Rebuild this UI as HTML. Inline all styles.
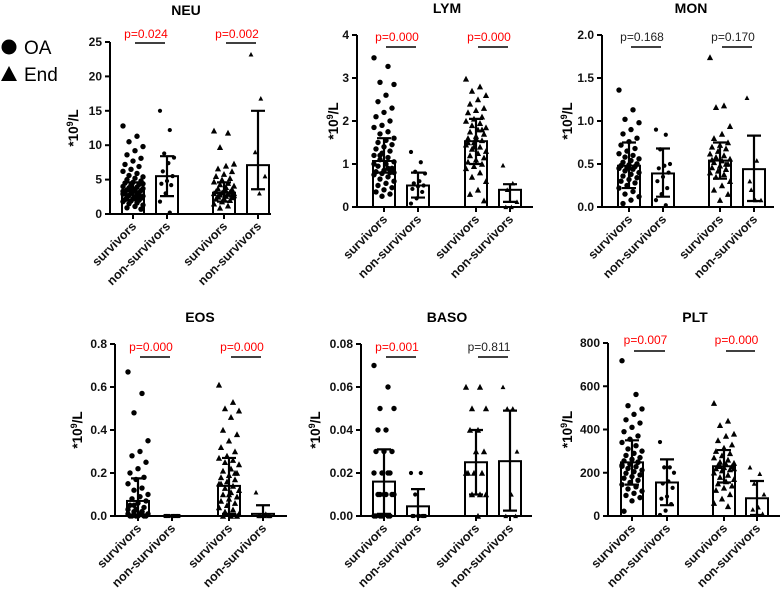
<!DOCTYPE html>
<html><head><meta charset="utf-8"><style>
html,body{margin:0;padding:0;background:#fff}
svg{display:block;font-family:"Liberation Sans",Arial,sans-serif}
</style></head><body>
<svg id="chart" width="783" height="596" viewBox="0 0 783 596" xmlns="http://www.w3.org/2000/svg">
<g>
<circle cx="9" cy="47" r="7.5" fill="#000"/>
<text x="24" y="54" font-size="19" fill="#000">OA</text>
<polygon points="1,81 9,66 17,81" fill="#000"/>
<text x="24" y="81" font-size="19" fill="#000">End</text>
</g>
</svg>
<script>
const categories = ["survivors","non-survivors","survivors","non-survivors"];
const panelNames = ["NEU","LYM","MON","EOS","BASO","PLT"];
const yMax = [25,4,2.0,0.8,0.08,800];
const yTicks = [[0,5,10,15,20,25],[0,1,2,3,4],[0,0.5,1.0,1.5,2.0],[0,0.2,0.4,0.6,0.8],[0,0.02,0.04,0.06,0.08],[0,200,400,600,800]];
const yTickLabels = [["0","5","10","15","20","25"],["0","1","2","3","4"],["0.0","0.5","1.0","1.5","2.0"],["0.0","0.2","0.4","0.6","0.8"],["0.00","0.02","0.04","0.06","0.08"],["0","200","400","600","800"]];
const pValues = [["p=0.024","p=0.002"],["p=0.000","p=0.000"],["p=0.168","p=0.170"],["p=0.000","p=0.000"],["p=0.001","p=0.811"],["p=0.007","p=0.000"]];
const pSignificant = [[true,true],[true,true],[false,false],[true,true],[true,false],[true,true]];
const barMeans = [[3.3,5.5,3.1,7.1],[1.07,0.5,1.53,0.4],[0.48,0.39,0.54,0.44],[0.07,0.0,0.14,0.01],[0.016,0.0045,0.025,0.0255],[248,155,230,82]];
const errHigh = [[4.6,8.4,4.6,15.0],[1.6,0.8,2.05,0.53],[0.75,0.68,0.75,0.83],[0.175,0.0,0.27,0.05],[0.031,0.0125,0.040,0.049],[350,262,305,162]];
const errLow = [[2.0,2.6,1.8,3.6],[0.8,0.22,1.0,0.12],[0.22,0.12,0.33,0.07],[0.0,0.0,0.01,0.0],[0.001,0.0,0.010,0.0025],[145,50,155,5]];
const neuPoints = [[12.8,11.3,10.5,9.8,9.2,8.6,8.1,7.7,7.2,6.9,6.5,6.2,5.9,5.6,5.4,5.2,5.0,4.8,4.6,4.5,4.3,4.2,4.0,3.9,3.8,3.7,3.6,3.5,3.4,3.3,3.2,3.1,3.0,2.9,2.8,2.7,2.6,2.5,2.4,2.3,2.2,2.1,2.0,1.9,1.8,1.6,1.5,1.3,1.1,0.9,0.7,3.5,3.0,2.6,4.1,3.3,2.9,3.7,4.4,2.4],[15,12.2,8.8,8.2,7.4,6.2,5.5,4.8,4.4,4.2,3.0,1.8,0.2],[12.1,11.8,9.7,7.3,7.0,6.6,6.2,5.8,5.5,5.2,5.0,4.7,4.5,4.3,4.1,3.9,3.7,3.6,3.4,3.3,3.2,3.1,3.0,2.9,2.8,2.7,2.6,2.5,2.4,2.3,2.2,2.0,1.8,1.5,1.2,0.9,3.0,3.4,2.6,2.8],[23.2,16.8,9.0,5.5,3.0]];
const lymPoints = [[3.47,3.27,2.9,2.85,2.6,2.45,2.3,2.2,2.1,2.0,1.9,1.85,1.75,1.7,1.6,1.55,1.5,1.45,1.4,1.35,1.3,1.25,1.2,1.15,1.1,1.05,1.0,0.95,0.9,0.85,0.82,0.8,0.78,0.75,0.7,0.65,0.6,0.55,0.5,0.45,0.4,0.35,0.3,0.25,1.0,0.9,1.2,0.8],[1.28,1.04,0.82,0.78,0.6,0.55,0.5,0.48,0.42,0.35,0.2,0.08],[2.98,2.8,2.7,2.6,2.5,2.4,2.3,2.25,2.2,2.1,2.05,2.0,1.95,1.9,1.85,1.8,1.75,1.7,1.65,1.6,1.55,1.5,1.45,1.4,1.35,1.3,1.25,1.2,1.15,1.1,1.05,1.0,0.95,0.9,0.8,0.7,0.6,0.4,0.3,0.15,1.6,1.5,1.8,1.4],[0.97,0.55,0.4,0.12,0.0,0.0]];
const monPoints = [[1.36,1.13,1.02,0.98,0.9,0.85,0.8,0.76,0.72,0.68,0.65,0.62,0.6,0.58,0.56,0.54,0.52,0.5,0.49,0.48,0.47,0.46,0.45,0.44,0.42,0.4,0.38,0.36,0.34,0.32,0.3,0.28,0.25,0.22,0.18,0.15,0.12,0.08,0.04,0.5,0.45,0.48],[0.9,0.84,0.67,0.5,0.48,0.45,0.4,0.35,0.3,0.22,0.15,0.08,0.02],[1.74,1.18,1.16,0.94,0.85,0.8,0.75,0.72,0.7,0.68,0.65,0.62,0.6,0.58,0.56,0.54,0.52,0.5,0.48,0.46,0.44,0.42,0.4,0.38,0.35,0.3,0.25,0.2,0.15,0.08,0.55,0.5],[1.27,0.54,0.2,0.08,0.08,0.3]];
const eosPoints = [[0.67,0.57,0.48,0.35,0.3,0.28,0.25,0.22,0.2,0.18,0.17,0.15,0.13,0.12,0.1,0.09,0.08,0.07,0.06,0.05,0.04,0.03,0.03,0.02,0.02,0.01,0.01,0.0,0.0,0.0,0.0,0.0,0.0,0.01,0.02,0.05],[0,0,0,0,0,0,0,0,0,0],[0.61,0.53,0.5,0.49,0.46,0.4,0.38,0.35,0.32,0.3,0.28,0.27,0.26,0.25,0.24,0.22,0.21,0.2,0.19,0.18,0.17,0.16,0.15,0.14,0.13,0.12,0.11,0.1,0.09,0.08,0.07,0.06,0.05,0.04,0.03,0.02,0.01,0.0,0.0,0.0,0.1,0.15,0.2],[0.11,0.01,0.0,0.0,0.0,0.0,0.0]];
const basoPoints = [[0.07,0.06,0.05,0.05,0.04,0.04,0.03,0.03,0.03,0.02,0.02,0.02,0.02,0.01,0.01,0.01,0.01,0.01,0.01,0.0,0.0,0.0,0.0,0.0,0.0],[0.02,0.02,0.01,0.0,0.0,0.0,0.0,0.0,0.0,0.0],[0.06,0.06,0.05,0.05,0.04,0.04,0.03,0.03,0.02,0.02,0.02,0.02,0.01,0.01,0.01,0.0],[0.06,0.05,0.05,0.03,0.01,0.0,0.0]];
const pltPoints = [[718,562,510,495,470,445,430,410,390,370,355,340,325,310,300,290,280,270,262,255,248,240,235,228,220,212,205,198,190,182,175,165,155,145,135,125,115,105,95,85,70,22,250,240,230],[342,225,225,200,160,150,130,90,80,55,25,5],[522,440,420,380,370,350,330,315,300,290,280,270,260,250,245,240,235,230,225,220,215,210,200,190,180,170,160,150,140,130,120,100,80,60,45,230,220],[225,195,150,100,40,30,10,10]];
const allPoints = [neuPoints,lymPoints,monPoints,eosPoints,basoPoints,pltPoints];

// layout (not data)
const layout = [
 {ax:110,top:42,zero:214,bx:[133,167,224,258],end:271,tx:186,ty:15,ytd:37,ty1:38,ly:43},
 {ax:357,top:35,zero:207,bx:[384,418,476,510],end:533,tx:447,ty:13,ytd:24,ty1:41,ly:47},
 {ax:602,top:35,zero:207,bx:[629,663,720,754],end:774,tx:691,ty:13,ytd:35,ty1:41,ly:47},
 {ax:115,top:344,zero:516,bx:[138,172,229,263],end:287,tx:200,ty:322,ytd:38,ty1:351,ly:357},
 {ax:361,top:344,zero:516,bx:[384,418,476,510],end:532,tx:447,ty:322,ytd:46,ty1:351,ly:357},
 {ax:608,top:343,zero:516,bx:[632,667,724,757],end:780,tx:695,ty:322,ytd:41,ty1:344,ly:351}
];
const NS="http://www.w3.org/2000/svg";
const svg=document.getElementById('chart');
function mk(tag,attrs,parent){const e=document.createElementNS(NS,tag);for(const k in attrs)e.setAttribute(k,attrs[k]);parent.appendChild(e);return e;}

panelNames.forEach((name,p)=>{
 const L=layout[p];
 const yS=v=>L.zero-(v/yMax[p])*(L.zero-L.top);
 const g=mk('g',{},svg);
 
 
 const t=mk('text',{x:L.tx,y:L.ty,'text-anchor':'middle','font-size':14,'font-weight':'bold'},g);
 
 
 t.textContent=name;
 const cy=(L.top+L.zero)/2;
 const yt=mk('text',{x:L.ax-L.ytd+5,y:cy,'text-anchor':'middle','font-size':13.5,'font-weight':'bold',transform:`rotate(-90 ${L.ax-L.ytd+5} ${cy})`},g);
 
 
 yt.innerHTML='*10<tspan dy="-5" font-size="9">9</tspan><tspan dy="5">/L</tspan>';
 const ya=mk('line',{x1:L.ax,y1:L.top,x2:L.ax,y2:L.zero+1,stroke:'#000','stroke-width':2},g);
 
 
 const xa=mk('line',{x1:L.ax-1,y1:L.zero,x2:L.end,y2:L.zero,stroke:'#000','stroke-width':2},g);
 
 
 yTicks[p].forEach((v,i)=>{
  const y=yS(v);
  const tk=mk('line',{x1:L.ax-5,y1:y,x2:L.ax,y2:y,stroke:'#000','stroke-width':2},g);
  
  
  const tl=mk('text',{x:L.ax-8,y:y+4,'text-anchor':'end','font-size':12,'font-weight':'bold',fill:'#111'},g);
  
  
  tl.textContent=yTickLabels[p][i];
 });
 categories.forEach((c,k)=>{
  const cx=L.bx[k];
  const bh=L.zero-yS(barMeans[p][k]);
  const bar=mk('rect',{x:cx-11,y:L.zero-bh,width:22,height:Math.max(bh,0),fill:'#fff',stroke:'#000','stroke-width':2},g);
  
  
  const pts=allPoints[p][k];
  const w=k%2===0?10:7;
  const r=k%2===0?2.7:2.1;
  pts.forEach((v,i)=>{
   const jx=cx+(((i*7)%11)-5)/5*w;
   const y=yS(v);
   let m;
   if(k<2){m=mk('circle',{cx:jx,cy:y,r:r,fill:'#000'},g);}
   else{const s=r*1.15;m=mk('polygon',{points:`${jx-s},${y+s*0.9} ${jx},${y-s} ${jx+s},${y+s*0.9}`,fill:'#000'},g);}
   
   
  });
  const hi=yS(errHigh[p][k]),lo=yS(errLow[p][k]);
  const eb=mk('path',{d:`M${cx},${hi}V${lo}M${cx-7},${hi}H${cx+7}M${cx-7},${lo}H${cx+7}`,stroke:'#000','stroke-width':2.2,fill:'none'},g);
  
  
  const xt=mk('line',{x1:cx,y1:L.zero,x2:cx,y2:L.zero+5,stroke:'#000','stroke-width':2},g);
  
  
  const lx=cx+4,ly=L.zero+13;
  const xl=mk('text',{x:lx,y:ly,'text-anchor':'end','font-size':12.5,'font-weight':'bold',fill:'#111',transform:`rotate(-45 ${lx} ${ly})`},g);
  
  
  xl.textContent=c;
 });
 [0,1].forEach(j=>{
  const a=L.bx[j*2],b=L.bx[j*2+1];
  const ln=mk('line',{x1:a+2,y1:L.ly,x2:b-2,y2:L.ly,stroke:'#000','stroke-width':1.5},g);
  
  
  const pt=mk('text',{x:(a+b)/2-4,y:L.ty1,'text-anchor':'middle','font-size':12,fill:pSignificant[p][j]?'#ff0000':'#222'},g);
  
  
  pt.textContent=pValues[p][j];
 });
});
</script>
</body></html>
